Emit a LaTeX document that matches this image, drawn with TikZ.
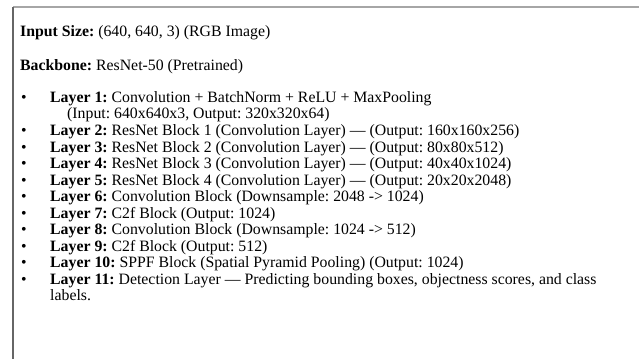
\documentclass[tikz,border=0pt]{standalone}
\usepackage{fontspec}
\setmainfont{Liberation Serif}
\usepackage{xcolor}
\usetikzlibrary{positioning}
\frenchspacing

\begin{document}
\begin{tikzpicture}[x=1pt, y=-1pt,
    line/.style={anchor=base west, inner sep=0pt, font=\fontsize{15.8}{17}\selectfont},
    dot/.style={anchor=base west, inner sep=0pt, font=\fontsize{15.8}{17}\selectfont},
    frame/.style={line width=1.2pt},
]
\useasboundingbox (0,0) rectangle (639,359);

% cropped frame: only top and left edges visible
\coordinate (TL) at (13,7);
\coordinate (TR) at (639,7);
\coordinate (BL) at (13,359);
\draw[frame, black!35] (TL) -- (TR);
\draw[frame, black!60] (TL) -- (BL);

\node[line] (IN) at (20,36) {\textbf{Input Size:} (640, 640, 3) (RGB Image)};
\node[line] (BB) at (20,70) {\textbf{Backbone:} ResNet-50 (Pretrained)};

\node[dot] (D1) at (21,102) {•};
\node[line] (L1) at (50,102) {\textbf{Layer 1:} Convolution + BatchNorm + ReLU + MaxPooling};
\node[line] (L1b) at (67,118) {(Input: 640x640x3, Output: 320x320x64)};
\node[dot] (D2) at (21,135) {•};
\node[line] (L2) at (50,135) {\textbf{Layer 2:} ResNet Block 1 (Convolution Layer) — (Output: 160x160x256)};
\node[dot] (D3) at (21,152) {•};
\node[line] (L3) at (50,152) {\textbf{Layer 3:} ResNet Block 2 (Convolution Layer) — (Output: 80x80x512)};
\node[dot] (D4) at (21,168) {•};
\node[line] (L4) at (50,168) {\textbf{Layer 4:} ResNet Block 3 (Convolution Layer) — (Output: 40x40x1024)};
\node[dot] (D5) at (21,185) {•};
\node[line] (L5) at (50,185) {\textbf{Layer 5:} ResNet Block 4 (Convolution Layer) — (Output: 20x20x2048)};
\node[dot] (D6) at (21,201) {•};
\node[line] (L6) at (50,201) {\textbf{Layer 6:} Convolution Block (Downsample: 2048 -> 1024)};
\node[dot] (D7) at (21,218) {•};
\node[line] (L7) at (50,218) {\textbf{Layer 7:} C2f Block (Output: 1024)};
\node[dot] (D8) at (21,234) {•};
\node[line] (L8) at (50,234) {\textbf{Layer 8:} Convolution Block (Downsample: 1024 -> 512)};
\node[dot] (D9) at (21,251) {•};
\node[line] (L9) at (50,251) {\textbf{Layer 9:} C2f Block (Output: 512)};
\node[dot] (D10) at (21,267) {•};
\node[line] (L10) at (50,267) {\textbf{Layer 10:} SPPF Block (Spatial Pyramid Pooling) (Output: 1024)};
\node[dot] (D11) at (21,284) {•};
\node[line] (L11) at (50,284) {\textbf{Layer 11:} Detection Layer — Predicting bounding boxes, objectness scores, and class};
\node[line] (L11b) at (50,300) {labels.};
\end{tikzpicture}
\end{document}
